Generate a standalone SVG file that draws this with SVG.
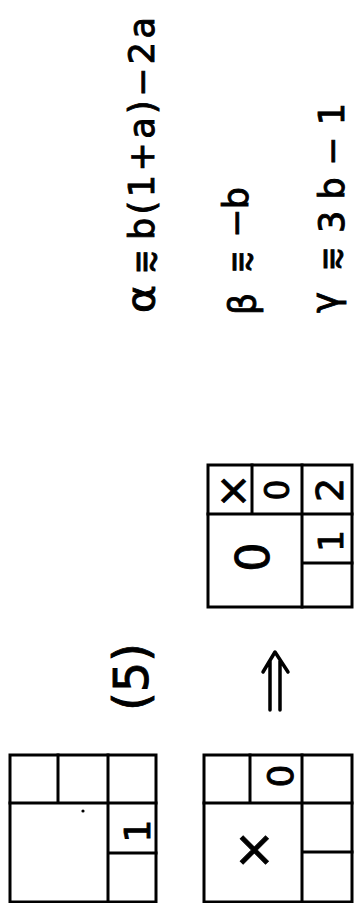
<svg xmlns="http://www.w3.org/2000/svg" width="354" height="903" viewBox="0 0 354 903">
<style>
.g{fill:none;stroke:#000;stroke-width:3;stroke-linecap:square}
.t{font-family:"DejaVu Sans","Liberation Sans",sans-serif;fill:#000;stroke:#000;stroke-width:0.9}
.c{text-anchor:middle;dominant-baseline:central}
.ar{fill:none;stroke:#000;stroke-width:3.5;stroke-linecap:round;stroke-linejoin:round}
</style>
<rect width="354" height="903" fill="#fff"/>
<g id="equations">
  <g id="eq-alpha">
    <text class="t" font-size="38" transform="translate(154,313) rotate(-90)" textLength="28" lengthAdjust="spacingAndGlyphs">α</text>
    <text class="t" font-size="40" transform="translate(158,273) rotate(-90)" textLength="22" lengthAdjust="spacingAndGlyphs">⩳</text>
    <text class="t" font-size="35" transform="translate(154,240) rotate(-90)" textLength="223" lengthAdjust="spacing">b(1+a)−2a</text>
  </g>
  <g id="eq-beta">
    <text class="t" font-size="38" transform="translate(255,315) rotate(-90)" textLength="22" lengthAdjust="spacingAndGlyphs">β</text>
    <text class="t" font-size="40" transform="translate(254,272) rotate(-90)" textLength="20" lengthAdjust="spacingAndGlyphs">⩳</text>
    <text class="t" font-size="35" transform="translate(248,238) rotate(-90)" textLength="51" lengthAdjust="spacing">−b</text>
  </g>
  <g id="eq-gamma">
    <text class="t" font-size="38" transform="translate(338,313) rotate(-90)" textLength="21" lengthAdjust="spacingAndGlyphs">γ</text>
    <text class="t" font-size="38" transform="translate(345,270) rotate(-90)" textLength="22" lengthAdjust="spacingAndGlyphs">⩳</text>
    <text class="t" font-size="35" transform="translate(344,233) rotate(-90)" textLength="130" lengthAdjust="spacing">3b−1</text>
  </g>
</g>
<g id="grid-top">
  <rect class="g" x="208" y="465" width="144" height="142"/>
  <path class="g" d="M208 514H352M252 465V514M302 465V607M302 563H352"/>
  <text class="t c" font-size="42" transform="translate(232,491) rotate(-90)">×</text>
  <text class="t c" font-size="33" transform="translate(277,490) rotate(-90)">0</text>
  <text class="t c" font-size="38" transform="translate(330,490) rotate(-90)">2</text>
  <text class="t c" font-size="46" transform="translate(253,557) rotate(-90)">0</text>
  <text class="t c" font-size="34" transform="translate(331,541) rotate(-90)">1</text>
</g>
<g id="label-5">
  <text class="t c" font-size="48" transform="translate(131,677) rotate(-90)">(5)</text>
</g>
<g id="grid-a">
  <rect class="g" x="10" y="755" width="146" height="147"/>
  <path class="g" d="M10 803H156M58 755V803M108 755V902M108 853H156"/>
  <text class="t c" font-size="36" transform="translate(137,831) rotate(-90)">1</text>
  <circle cx="83" cy="811" r="1.6" fill="#000"/>
</g>
<g id="grid-b">
  <rect class="g" x="204" y="755" width="148" height="147"/>
  <path class="g" d="M204 803H352M250 755V803M302 755V902M302 852H352"/>
  <text class="t c" font-size="36" transform="translate(280,776) rotate(-90)">0</text>
  <text class="t c" font-size="50" transform="translate(253,850) rotate(-90)">×</text>
</g>
<g id="connectors">
  <path class="ar" d="M270 710V661M280 710V661M263 672L275 652L288 672"/>
</g>
</svg>
